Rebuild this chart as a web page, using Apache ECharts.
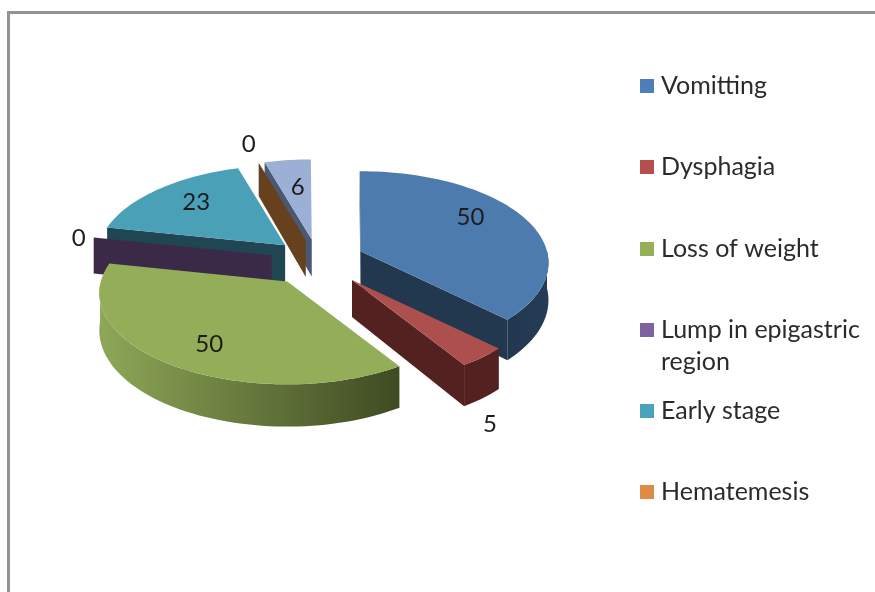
<!DOCTYPE html>
<html>
<head>
<meta charset="utf-8">
<title>Symptoms</title>
<style>
  html, body { margin: 0; padding: 0; background: #fff; }
  #main { width: 875px; height: 592px; }
</style>
<script src="https://cdn.jsdelivr.net/npm/echarts@6/dist/echarts.min.js"></script>
</head>
<body>
<div id="main"></div>
<script>
// data
var names = ['Vomitting', 'Dysphagia', 'Loss of weight', 'Lump in epigastric region', 'Early stage', 'Hematemesis', 'Others'];
var values = [50, 5, 50, 0, 23, 0, 6];
var legendNames = ['Vomitting', 'Dysphagia', 'Loss of weight', 'Lump in epigastric region', 'Early stage', 'Hematemesis'];

// colours
var legendColors = ['#4f7fb8', '#b34f4d', '#95b058', '#7f62a0', '#4aa3bb', '#de8c45', '#9cafd4'];
var topColors = ['#4e7bae', '#ad504d', '#94ad59', '#7f62a0', '#4aa0b6', '#de8c45', '#9cafd4'];
var wallColors = ['#22384f', '#522120', '#4a5a2b', '#3b2a47', '#1f4652', '#67401d', '#4b5873'];
var sideColors = [['#22384f', '#243c56'], ['#522120', '#522120'], ['#8ea757', '#3f4a22'], ['#3b2a47', '#3b2a47'], ['#1f4652', '#1f4652'], ['#67401d', '#67401d'], ['#4b5873', '#4b5873']];

// pie geometry, back slices are painted first
var drawOrder = [6, 5, 4, 3, 0, 1, 2];
var cx = 318, cy = 260, rx = 186.5, ry = 90, persp = 0.125, depth = 37, explode = 0.26;
var startAngle = -0.3;
// label offset from the slice apex
var labelShift = [[110, -34], [138, 144], [-78, 63], [-193, -17], [-89, -43], [-57, -96], [-14, -52]];

var total = values.reduce(function (a, b) { return a + b; }, 0);
var angles = [];
var sum = 0;
values.forEach(function (v) {
    var a0 = startAngle + sum / total * 360;
    sum += v;
    angles.push([a0, startAngle + sum / total * 360]);
});

function sinD(a) { return Math.sin(a * Math.PI / 180); }
function cosD(a) { return Math.cos(a * Math.PI / 180); }

// disc point at angle a (clockwise from top), r = 0..1, projected on the page
function project(a, r) {
    var u = sinD(a) * r, v = cosD(a) * r;
    var f = 1 + persp * v;
    return [rx * u / f, -ry * v / f];
}
function wallDepth(a, r) {
    return depth / (1 + persp * cosD(a) * r);
}
function arcPoints(from, to) {
    var pts = [];
    var n = Math.max(1, Math.ceil((to - from) / 2));
    for (var i = 0; i <= n; i++) {
        pts.push(from + (to - from) * i / n);
    }
    return pts;
}

function renderSlice(i) {
    var a0 = angles[i][0], a1 = angles[i][1];
    var mid = (a0 + a1) / 2;
    var off = project(mid, 1);
    var ax = cx + off[0] * explode, ay = cy + off[1] * explode;
    var children = [];

    function rim(a) {
        var p = project(a, 1);
        return [ax + p[0], ay + p[1]];
    }
    function addWall(a) {
        var p = rim(a);
        children.push({
            type: 'polygon',
            shape: { points: [p, [ax, ay], [ax, ay + depth], [p[0], p[1] + wallDepth(a, 1)]] },
            style: { fill: wallColors[i] }
        });
    }

    // flat cut faces that look towards the viewer
    if (sinD(a0) < 0) addWall(a0);
    if (sinD(a1) > 0) addWall(a1);

    // round outer side
    var from = Math.max(a0, 90), to = Math.min(a1, 268);
    if (to > from) {
        var list = arcPoints(from, to);
        var up = list.map(rim);
        var down = list.map(function (a) {
            var p = rim(a);
            return [p[0], p[1] + wallDepth(a, 1)];
        }).reverse();
        children.push({
            type: 'polygon',
            shape: { points: up.concat(down) },
            style: {
                fill: new echarts.graphic.LinearGradient(0, 0, 1, 0, [
                    { offset: 0, color: sideColors[i][0] },
                    { offset: 1, color: sideColors[i][1] }
                ])
            }
        });
    }

    // top face
    if (a1 > a0) {
        children.push({
            type: 'polygon',
            shape: { points: [[ax, ay]].concat(arcPoints(a0, a1).map(rim)) },
            style: { fill: topColors[i] }
        });
    }

    // value label
    children.push({
        type: 'text',
        z2: 100,
        style: {
            x: ax + labelShift[i][0],
            y: ay + labelShift[i][1],
            text: String(values[i]),
            fill: '#1c1c1c',
            font: '24px Lato',
            align: 'center',
            verticalAlign: 'middle'
        }
    });
    return { type: 'group', children: children };
}

var series = drawOrder.map(function (i) {
    return {
        type: 'custom',
        name: names[i],
        coordinateSystem: 'none',
        silent: true,
        itemStyle: { color: legendColors[i] },
        data: [values[i]],
        renderItem: function () { return renderSlice(i); }
    };
});

// one legend per row, the wrapped row must not push the rows under it
var legendRows = [86, 167, 249, 330, 411, 492];
var legends = legendNames.map(function (n, k) {
    var wrapped = n.length > 20;
    return {
        data: [n],
        orient: 'vertical',
        left: 640,
        top: legendRows[k] - (wrapped ? 48 : 16),
        padding: 0,
        icon: 'rect',
        itemWidth: 14,
        itemHeight: 14,
        selectedMode: false,
        // empty first line keeps the symbol level with the first text line
        formatter: function (name) {
            return name.length > 20 ? '\n' + name.replace('epigastric ', 'epigastric\n') : name;
        },
        textStyle: {
            fontFamily: 'Lato',
            fontSize: 25,
            color: '#2b2b2b',
            lineHeight: 32,
            padding: [0, 0, 0, 2]
        }
    };
});

var chart = echarts.init(document.getElementById('main'));
chart.setOption({
    animation: false,
    backgroundColor: '#fff',
    legend: legends,
    graphic: [
        { type: 'rect', shape: { x: 7, y: 11, width: 868, height: 3 }, style: { fill: '#939393' } },
        { type: 'rect', shape: { x: 7, y: 11, width: 3, height: 581 }, style: { fill: '#939393' } }
    ],
    series: series
});
</script>
</body>
</html>
